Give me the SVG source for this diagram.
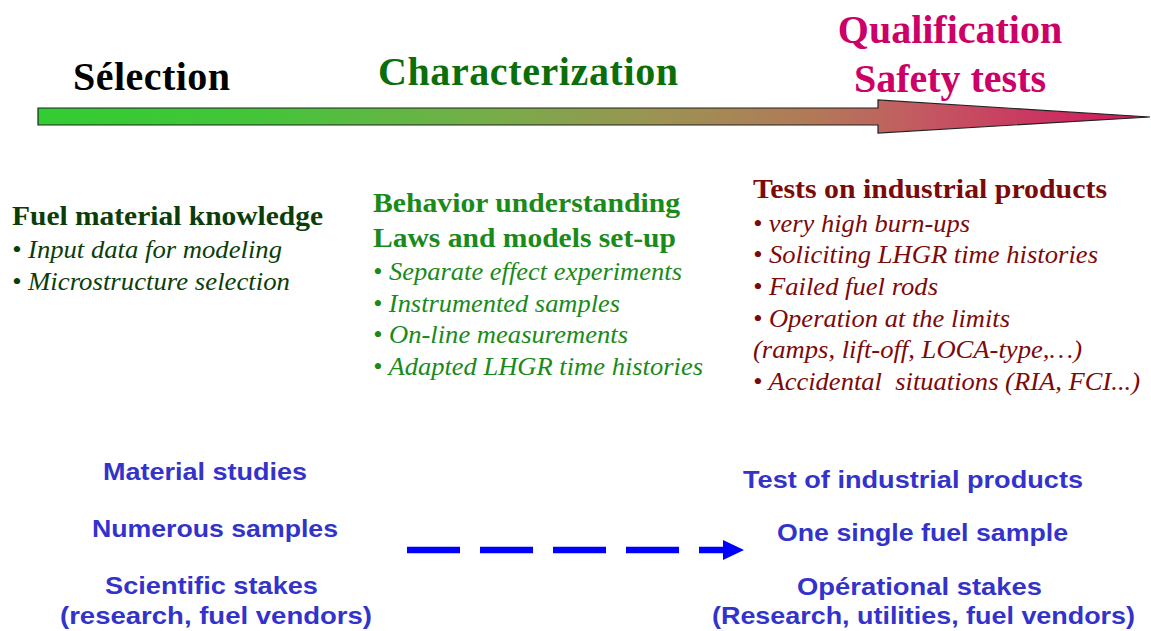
<svg xmlns="http://www.w3.org/2000/svg" width="1151" height="631" viewBox="0 0 1151 631">
<defs>
<linearGradient id="g" x1="38" y1="0" x2="1150" y2="0" gradientUnits="userSpaceOnUse">
<stop offset="0" stop-color="#33CC33"/>
<stop offset="0.2" stop-color="#44C43A"/>
<stop offset="0.4" stop-color="#74AE48"/>
<stop offset="0.55" stop-color="#9A9452"/>
<stop offset="0.7" stop-color="#B37858"/>
<stop offset="0.8" stop-color="#C45762"/>
<stop offset="1" stop-color="#D0155F"/>
</linearGradient>
</defs>
<style>
.h{font-family:"Liberation Serif",serif;font-weight:bold;font-size:40px}
.s{font-family:"Liberation Serif",serif;font-weight:bold;font-size:27px}
.b{font-family:"Liberation Serif",serif;font-style:italic;font-size:25px}
.blue{font-family:"Liberation Sans",Arial,sans-serif;font-weight:bold;font-size:24px;fill:#3333CC}
</style>
<rect width="1151" height="631" fill="#fff"/>
<g id="timeline">
<path d="M38,108 H878 V100 L1150,117 L878,133 V125 H38 Z" fill="url(#g)" stroke="#222" stroke-width="1.2"/>
</g>
<g id="selection">
<text class="h" x="73" y="90" fill="#000" textLength="157">Sélection</text>
</g>
<g id="characterization">
<text class="h" x="378" y="85" fill="#0A6E0A" textLength="300">Characterization</text>
</g>
<g id="qualification">
<text class="h" x="950" y="43" fill="#CC0066" text-anchor="middle">Qualification</text>
<text class="h" x="950" y="92" fill="#CC0066" text-anchor="middle">Safety tests</text>
</g>
<g id="fuel-knowledge" fill="#0B3D0B">
<text class="s" x="12" y="225" textLength="311" lengthAdjust="spacingAndGlyphs">Fuel material knowledge</text>
<text class="b" x="12" y="258" textLength="270" lengthAdjust="spacingAndGlyphs">• Input data for modeling</text>
<text class="b" x="12" y="290" textLength="278" lengthAdjust="spacingAndGlyphs">• Microstructure selection</text>
</g>
<g id="behavior" fill="#1A8A1A">
<text class="s" x="373" y="212" textLength="307" lengthAdjust="spacingAndGlyphs">Behavior understanding</text>
<text class="s" x="373" y="247" textLength="303" lengthAdjust="spacingAndGlyphs">Laws and models set-up</text>
<text class="b" x="373" y="280" textLength="309" lengthAdjust="spacingAndGlyphs">• Separate effect experiments</text>
<text class="b" x="373" y="312" textLength="247" lengthAdjust="spacingAndGlyphs">• Instrumented samples</text>
<text class="b" x="373" y="343" textLength="255" lengthAdjust="spacingAndGlyphs">• On-line measurements</text>
<text class="b" x="373" y="375" textLength="330" lengthAdjust="spacingAndGlyphs">• Adapted LHGR time histories</text>
</g>
<g id="tests" fill="#7B0A0A">
<text class="s" x="753" y="198" textLength="354" lengthAdjust="spacingAndGlyphs">Tests on industrial products</text>
<text class="b" x="753" y="232" textLength="217" lengthAdjust="spacingAndGlyphs">• very high burn-ups</text>
<text class="b" x="753" y="263" textLength="345" lengthAdjust="spacingAndGlyphs">• Soliciting LHGR time histories</text>
<text class="b" x="753" y="295" textLength="185" lengthAdjust="spacingAndGlyphs">• Failed fuel rods</text>
<text class="b" x="753" y="327" textLength="257" lengthAdjust="spacingAndGlyphs">• Operation at the limits</text>
<text class="b" x="753" y="358" textLength="329" lengthAdjust="spacingAndGlyphs">(ramps, lift-off, LOCA-type,…)</text>
<text class="b" x="753" y="390" textLength="387" lengthAdjust="spacingAndGlyphs" xml:space="preserve">• Accidental  situations (RIA, FCI...)</text>
</g>
<g id="left-summary">
<text class="blue" x="103" y="480" textLength="204" lengthAdjust="spacingAndGlyphs">Material studies</text>
<text class="blue" x="92" y="537" textLength="246" lengthAdjust="spacingAndGlyphs">Numerous samples</text>
<text class="blue" x="105" y="594" textLength="213" lengthAdjust="spacingAndGlyphs">Scientific stakes</text>
<text class="blue" x="60" y="624" textLength="312" lengthAdjust="spacingAndGlyphs">(research, fuel vendors)</text>
</g>
<g id="right-summary">
<text class="blue" x="743" y="488" textLength="340" lengthAdjust="spacingAndGlyphs">Test of industrial products</text>
<text class="blue" x="777" y="541" textLength="291" lengthAdjust="spacingAndGlyphs">One single fuel sample</text>
<text class="blue" x="797" y="595" textLength="245" lengthAdjust="spacingAndGlyphs">Opérational stakes</text>
<text class="blue" x="712" y="624" textLength="423" lengthAdjust="spacingAndGlyphs">(Research, utilities, fuel vendors)</text>
</g>
<g id="connectors">
<line x1="407" y1="550" x2="725" y2="550" stroke="#0000FF" stroke-width="6.5" stroke-dasharray="53 20"/>
<polygon points="723,540 744,550 723,560" fill="#0000FF"/>
</g>
</svg>
